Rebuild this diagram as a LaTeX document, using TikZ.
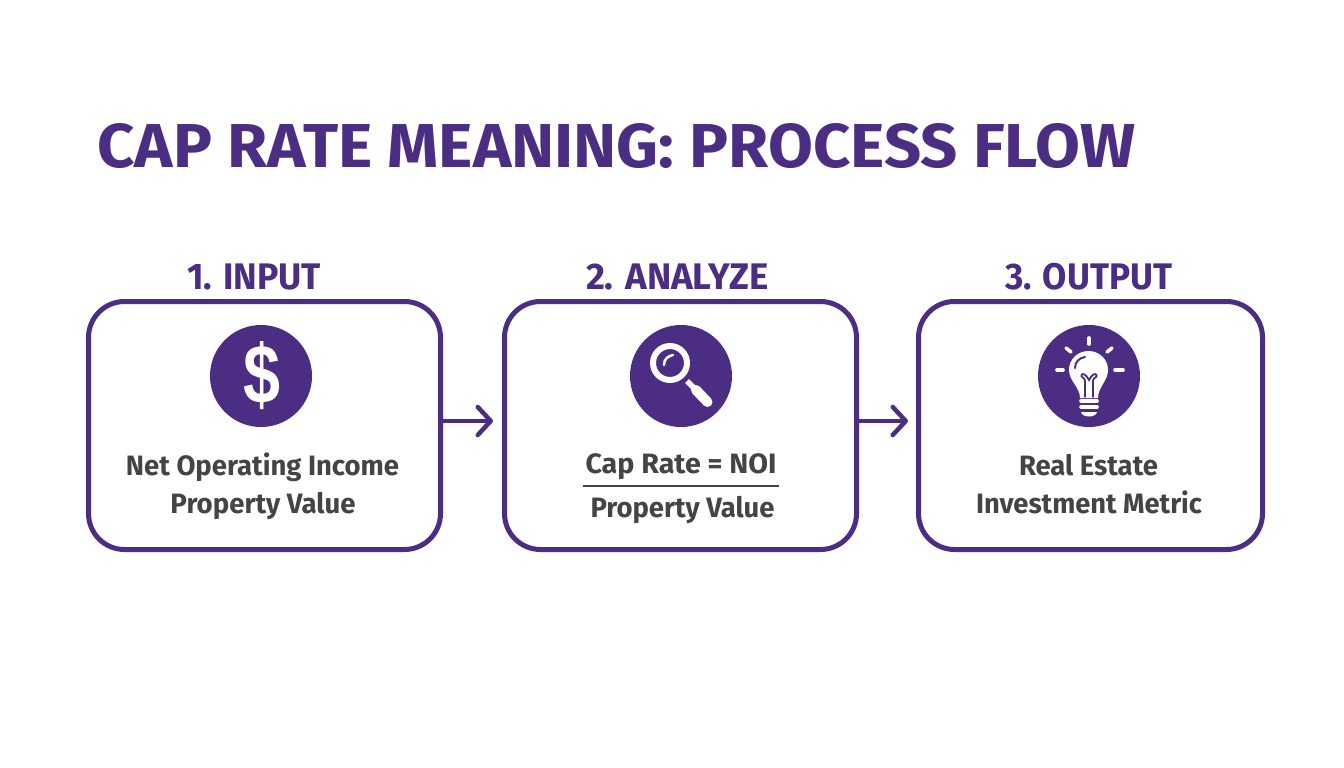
\documentclass[tikz,border=0pt]{standalone}
\usepackage{fontspec}
\usepackage{graphicx}
\setmainfont{Fira Sans}[BoldFont={Fira Sans Bold}]
\newfontfamily\dollarfont{Liberation Sans Bold}
\usetikzlibrary{arrows.meta}
\definecolor{brand}{HTML}{4B2E83}
\definecolor{ink}{HTML}{444444}
\newcommand{\fitx}[2]{\resizebox{#1pt}{\height}{#2}}
\tikzset{
  card/.style={draw=brand,line width=5pt,rounded corners=36pt,fill=white,minimum height=248pt,inner sep=0pt},
  heading/.style={anchor=base,text=brand,inner sep=0pt,font=\fontsize{37}{37}\selectfont\bfseries},
  body/.style={anchor=base,text=ink,inner sep=0pt,font=\fontsize{28}{28}\selectfont\bfseries},
  disc/.style={circle,fill=brand,minimum size=102pt,inner sep=0pt},
  flow/.style={draw=brand,line width=4.5pt,-{Straight Barb[length=13pt,width=28pt,line width=4.5pt,round]}},
  wl/.style={draw=white,line cap=round},
}
\begin{document}
\begin{tikzpicture}[x=1pt,y=-1pt]
\useasboundingbox[fill=white] (0,0) rectangle (1344,768);
\node[anchor=base,text=brand,inner sep=0pt,font=\fontsize{62}{62}\selectfont\bfseries] (title) at (616.5,167) {\fitx{1038}{CAP RATE MEANING: PROCESS FLOW}};
% cards
\node[card,minimum width=352pt] (b1) at (264.5,425.5) {};
\node[card,minimum width=352pt] (b2) at (680.5,425.5) {};
\node[card,minimum width=344pt] (b3) at (1090.5,425.5) {};
% headings
\node[heading] (h1) at (254,289) {\fitx{134}{1. INPUT}};
\node[heading] (h2) at (677.5,289) {\fitx{183}{2. ANALYZE}};
\node[heading] (h3) at (1088.5,289) {\fitx{167}{3. OUTPUT}};
% connectors
\coordinate (ay) at (0,421);
\draw[flow,shorten >=9pt] (b1.east |- ay) -- (b2.west |- ay);
\draw[flow,shorten >=8pt] (b2.east |- ay) -- (b3.west |- ay);
% discs
\node[disc] (d1) at (261,376) {};
\node[disc] (d2) at (681,376) {};
\node[disc] (d3) at (1089,376) {};
% dollar
\node[text=white,inner sep=0pt,font=\fontsize{76}{76}\selectfont\dollarfont] (dollar) at (261.5,376) {\resizebox{37pt}{62pt}{\$}};
% magnifier
\draw[white,line width=6pt,fill=brand] (670,363) circle (17);
\draw[white,line width=5.5pt] (687,381) -- (695,389);
\draw[white,line width=10pt,line cap=round] (696,390) -- (707.5,402);
\draw[white,line width=2.5pt,line cap=round] (664,365) .. controls (664,359) and (668,356) .. (673,355);
% bulb
\fill[white] (1080,398) .. controls (1080,387) and (1069,381) .. (1069,370)
  .. controls (1069,359) and (1078,351) .. (1088.5,351)
  .. controls (1099,351) and (1108,359) .. (1108,370)
  .. controls (1108,381) and (1098,387) .. (1098,398) -- cycle;
\draw[brand,line width=1.8pt,line cap=round] (1085,397) -- (1085,381) .. controls (1085,377) and (1080.5,378) .. (1081.5,375) .. controls (1082.5,373) and (1086,374) .. (1089,380) .. controls (1092,374) and (1095.5,373) .. (1096.5,375) .. controls (1097.5,378) and (1093,377) .. (1093,381) -- (1093,397);
\draw[brand,line width=2pt,line cap=round] (1075,368) .. controls (1075,362) and (1079,358) .. (1085,357);
\draw[wl,line width=3.6pt] (1081,401) -- (1097,401);
\draw[wl,line width=3.6pt] (1081,407) -- (1097,407);
\fill[white] (1081,412) -- (1097,412) .. controls (1096,418) and (1082,418) .. (1081,412) -- cycle;
\draw[wl,line width=3.6pt] (1089,338) -- (1089,344);
\draw[wl,line width=3.6pt] (1066,348) -- (1071,352);
\draw[wl,line width=3.6pt] (1107,352) -- (1112,348);
\draw[wl,line width=3.6pt] (1057,370) -- (1063,370);
\draw[wl,line width=3.6pt] (1115,370) -- (1123,370);
% body text
\node[body] (t1a) at (262.5,475) {\fitx{273}{Net Operating Income}};
\node[body] (t1b) at (263,513) {\fitx{185}{Property Value}};
\node[body] (t2a) at (681,473.5) {\fitx{191}{Cap Rate = NOI}};
\node[body] (t2b) at (682.5,517) {\fitx{184}{Property Value}};
\coordinate (fl) at (583,486);
\coordinate (fr) at (779,486);
\draw[ink,line width=2.2pt] (fl) -- (fr);
\node[body] (t3a) at (1088.5,475) {\fitx{139}{Real Estate}};
\node[body] (t3b) at (1089,513) {\fitx{226}{Investment Metric}};
\end{tikzpicture}
\end{document}
